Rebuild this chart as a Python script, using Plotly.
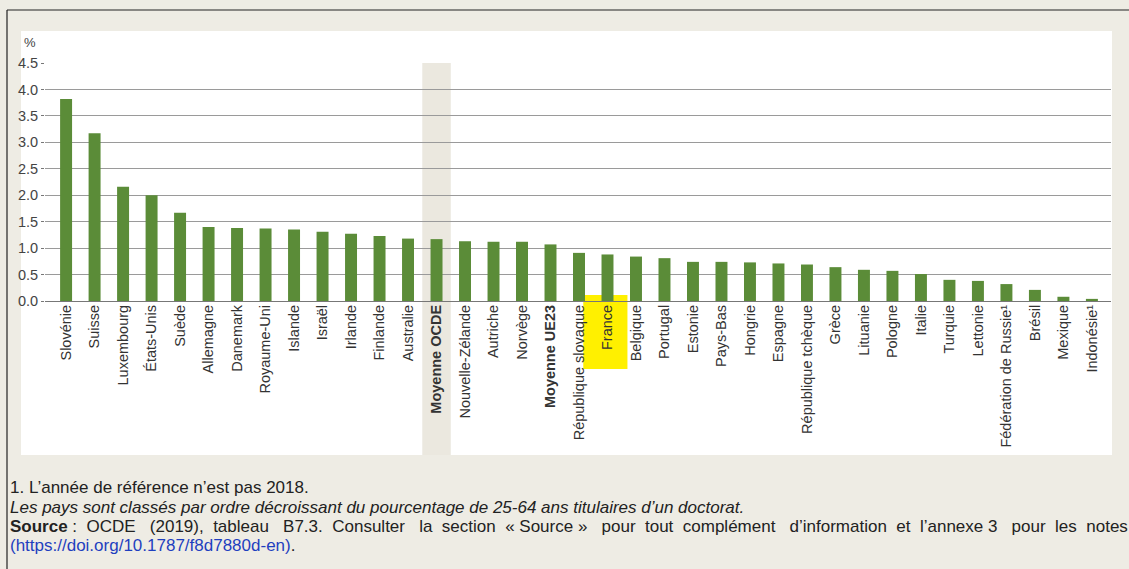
import plotly.graph_objects as go

countries = ["Slovénie", "Suisse", "Luxembourg", "États-Unis", "Suède", "Allemagne", "Danemark",
             "Royaume-Uni", "Islande", "Israël", "Irlande", "Finlande", "Australie", "Moyenne OCDE",
             "Nouvelle-Zélande", "Autriche", "Norvège", "Moyenne UE23", "République slovaque", "France",
             "Belgique", "Portugal", "Estonie", "Pays-Bas", "Hongrie", "Espagne", "République tchèque",
             "Grèce", "Lituanie", "Pologne", "Italie", "Turquie", "Lettonie", "Fédération de Russie¹",
             "Brésil", "Mexique", "Indonésie¹"]
values = [3.82, 3.17, 2.16, 2.00, 1.67, 1.40, 1.38, 1.37, 1.35, 1.31, 1.27, 1.23, 1.18, 1.17,
          1.13, 1.12, 1.12, 1.07, 0.91, 0.88, 0.84, 0.81, 0.74, 0.74, 0.73, 0.71, 0.69,
          0.64, 0.59, 0.57, 0.51, 0.40, 0.38, 0.32, 0.21, 0.08, 0.04]
bold_labels = ["Moyenne OCDE", "Moyenne UE23"]
highlight = "France"
y_ticks = [0.0, 0.5, 1.0, 1.5, 2.0, 2.5, 3.0, 3.5, 4.0, 4.5]

W, H = 1129, 569
L, R, T, B = 45, 18, 63, 268
XMIN, XMAX = -0.74, len(countries) - 1 + 0.67


def px_x(px):
    return (px - L) / (W - L - R)


def px_y(py):
    return (H - B - py) / (H - T - B)


def cat_x(i):
    return (i - XMIN) / (XMAX - XMIN)


idx = list(range(len(countries)))
ticktext = [f"<b>{c}</b>" if c in bold_labels else c for c in countries]

fig = go.Figure()
fig.add_trace(go.Bar(x=idx, y=values, width=0.42, marker=dict(color="#5b8c38", line=dict(width=0)),
                     hoverinfo="x+y"))

shapes = []
# white panel
shapes.append(dict(type="rect", xref="paper", yref="paper", x0=px_x(21), x1=px_x(1112),
                   y0=px_y(455), y1=px_y(31), fillcolor="white", line=dict(width=0), layer="below"))
# OECD average band
i_oecd = countries.index("Moyenne OCDE")
shapes.append(dict(type="rect", xref="paper", yref="paper", x0=cat_x(i_oecd - 0.5), x1=cat_x(i_oecd + 0.5),
                   y0=px_y(455), y1=1, fillcolor="#ebe8df", line=dict(width=0), layer="below"))
# France highlight
i_fr = countries.index(highlight)
shapes.append(dict(type="rect", xref="paper", yref="paper", x0=cat_x(i_fr - 0.85), x1=cat_x(i_fr + 0.7),
                   y0=px_y(369), y1=px_y(295), fillcolor="#fff000", line=dict(width=0), layer="below"))
# frame
shapes.append(dict(type="line", xref="paper", yref="paper", x0=px_x(7), x1=px_x(7),
                   y0=px_y(569), y1=px_y(10), line=dict(color="#222", width=1.2)))
shapes.append(dict(type="line", xref="paper", yref="paper", x0=px_x(7), x1=px_x(1129),
                   y0=px_y(10), y1=px_y(10), line=dict(color="#222", width=1.2)))

foot_font = "Liberation Sans, Arial, sans-serif"
fs = 17
annotations = [
    dict(text="%", xref="paper", yref="paper", x=px_x(22), y=px_y(42), xanchor="left", yanchor="middle",
         showarrow=False, font=dict(size=13, color="#444", family=foot_font)),
    dict(text="1. L’année de référence n’est pas 2018.", xref="paper", yref="paper", x=px_x(8), y=px_y(488),
         xanchor="left", yanchor="middle", showarrow=False, font=dict(size=fs, color="#222", family=foot_font)),
    dict(text="<i>Les pays sont classés par ordre décroissant du pourcentage de 25-64 ans titulaires d’un doctorat.</i>",
         xref="paper", yref="paper", x=px_x(8), y=px_y(507), xanchor="left", yanchor="middle", showarrow=False,
         font=dict(size=fs, color="#222", family=foot_font)),
    dict(text="<b>Source</b> :  OCDE   (2019),  tableau   B7.3.  Consulter   la  section  « Source »   pour  tout  complément   d’information  et  l’annexe 3   pour  les  notes",
         xref="paper", yref="paper", x=px_x(8), y=px_y(526), xanchor="left", yanchor="middle", showarrow=False,
         font=dict(size=fs, color="#222", family=foot_font)),
    dict(text="<span style='color:#1f3fbf'>(https://doi.org/10.1787/f8d7880d-en)</span>.",
         xref="paper", yref="paper", x=px_x(8), y=px_y(545), xanchor="left", yanchor="middle", showarrow=False,
         font=dict(size=fs, color="#222", family=foot_font)),
]

fig.update_layout(
    width=W, height=H, margin=dict(l=L, r=R, t=T, b=B, autoexpand=False),
    paper_bgcolor="#eeece4", plot_bgcolor="rgba(0,0,0,0)",
    showlegend=False,
    shapes=shapes, annotations=annotations,
    font=dict(family="Liberation Sans, Arial, sans-serif"),
)
fig.update_xaxes(range=[XMIN, XMAX], tickmode="array", tickvals=idx, ticktext=ticktext, tickangle=-90,
                 showgrid=False, zeroline=False, showline=False, ticks="",
                 tickfont=dict(size=14.5, color="#333"))
fig.update_yaxes(range=[0, 4.5], tickmode="array", tickvals=y_ticks, tickformat=".1f",
                 showgrid=True, gridcolor="#9a9a9a", gridwidth=1, zeroline=True, zerolinecolor="#777",
                 zerolinewidth=1, showline=False, ticks="outside", ticklen=3, tickcolor="#777",
                 tickfont=dict(size=14.5, color="#444"))

fig.write_html("out.html", config={"displayModeBar": False},
               post_script="document.body.style.margin='0';document.body.style.overflow='hidden';")
